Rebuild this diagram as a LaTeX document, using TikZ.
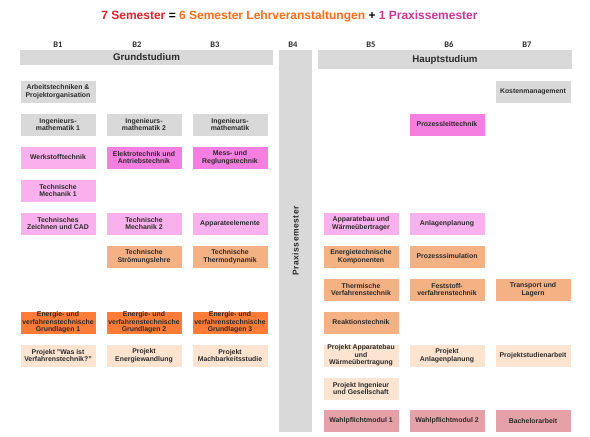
\documentclass[tikz,border=0pt]{standalone}
\usepackage{fontspec}
\setmainfont{Liberation Sans}
\newfontfamily\labelfont{Carlito}
\newfontfamily\praxfont[LetterSpace=6]{Liberation Sans}
\definecolor{grau}{HTML}{D9D9D9}
\definecolor{rosahell}{HTML}{F8B1EC}
\definecolor{rosadunkel}{HTML}{F47FE1}
\definecolor{lachs}{HTML}{F4B183}
\definecolor{orange}{HTML}{FF7C38}
\definecolor{pfirsich}{HTML}{FCE4D0}
\definecolor{altrosa}{HTML}{E6A0A8}
\definecolor{schrift}{HTML}{2B2B2B}
\definecolor{titrot}{HTML}{D9232A}
\definecolor{titorange}{HTML}{FF6A13}
\definecolor{titlila}{HTML}{CC3399}
\tikzstyle{modul} = [draw=white, line width=0.4pt, minimum width=76pt, minimum height=23pt, inner sep=0.5pt, align=center, text=schrift, font={\fontsize{6.9}{7.6}\selectfont\bfseries}]
\tikzstyle{grund} = [modul, fill=grau]
\tikzstyle{hell} = [modul, fill=rosahell]
\tikzstyle{dunkel} = [modul, fill=rosadunkel]
\tikzstyle{lachs} = [modul, fill=lachs]
\tikzstyle{evg} = [modul, fill=orange]
\tikzstyle{projekt} = [modul, fill=pfirsich]
\tikzstyle{wahl} = [modul, fill=altrosa]
\tikzstyle{balken} = [fill=grau, inner sep=0pt, text=schrift, font={\fontsize{9.7}{11}\selectfont\bfseries}]
\tikzstyle{sem} = [text=schrift, font={\labelfont\fontsize{8.5}{10}\selectfont\bfseries}]

\begin{document}
\begin{tikzpicture}[x=1pt,y=-1pt]
        \useasboundingbox (0,0) rectangle (590,437);
        \node[font={\fontsize{12}{14}\selectfont\bfseries}](titel) at (289.5,16){\textcolor{titrot}{7 Semester} = \textcolor{titorange}{6 Semester Lehrveranstaltungen} + \textcolor{titlila}{1 Praxissemester}};
        % Semester
        \node[sem](b1) at (58,44.5){B1};
        \node[sem](b2) at (137,44.5){B2};
        \node[sem](b3) at (215,44.5){B3};
        \node[sem](b4) at (293,44.5){B4};
        \node[sem](b5) at (371,44.5){B5};
        \node[sem](b6) at (449,44.5){B6};
        \node[sem](b7) at (527,44.5){B7};
        \node[balken, minimum width=253pt, minimum height=15pt](gs) at (146.5,57.5){Grundstudium};
        \node[balken, minimum width=254pt, minimum height=19pt](hs) at (445,59.5){Hauptstudium};
        \node[balken, minimum width=382pt, minimum height=33pt, rotate=90](praxis) at (295.5,241){\praxfont\fontsize{8.5}{10}\selectfont Praxissemester};
        % Grundstudium
        \node[grund](at1) at (58,91.5){Arbeitstechniken \&\\Projektorganisation};
        \node[grund](ma1) at (58,124.5){Ingenieurs-\\mathematik 1};
        \node[grund](ma2) at (144,124.5){Ingenieurs-\\mathematik 2};
        \node[grund](ma3) at (230,124.5){Ingenieurs-\\mathematik};
        \node[hell](wst) at (58,157.5){Werkstofftechnik};
        \node[dunkel](et) at (144,157.5){Elektrotechnik und\\Antriebstechnik};
        \node[dunkel](mrt) at (230,157.5){Mess- und\\Reglungstechnik};
        \node[hell](tm1) at (58,190.5){Technische\\Mechanik 1};
        \node[hell](tzc) at (58,223.5){Technisches\\Zeichnen und CAD};
        \node[hell](tm2) at (144,223.5){Technische\\Mechanik 2};
        \node[hell](ae) at (230,223.5){Apparateelemente};
        \node[lachs](tsl) at (144,256.5){Technische\\Strömungslehre};
        \node[lachs](ttd) at (230,256.5){Technische\\Thermodynamik};
        \node[evg](evg1) at (58,322.5){Energie- und\\verfahrenstechnische\\Grundlagen 1};
        \node[evg](evg2) at (144,322.5){Energie- und\\verfahrenstechnische\\Grundlagen 2};
        \node[evg](evg3) at (230,322.5){Energie- und\\verfahrenstechnische\\Grundlagen 3};
        \node[projekt](pvt) at (58,355.5){Projekt "Was ist\\Verfahrenstechnik?"};
        \node[projekt](pew) at (144,355.5){Projekt\\Energiewandlung};
        \node[projekt](pmb) at (230,355.5){Projekt\\Machbarkeitsstudie};
        % Hauptstudium
        \node[grund](km) at (533,91.5){Kostenmanagement};
        \node[dunkel](plt) at (447,124.5){Prozessleittechnik};
        \node[hell](awu) at (361,223.5){Apparatebau und\\Wärmeübertrager};
        \node[hell](apl) at (447,223.5){Anlagenplanung};
        \node[lachs](etk) at (361,256.5){Energietechnische\\Komponenten};
        \node[lachs](psim) at (447,256.5){Prozesssimulation};
        \node[lachs](tvt) at (361,289.5){Thermische\\Verfahrenstechnik};
        \node[lachs](fvt) at (447,289.5){Feststoff-\\verfahrenstechnik};
        \node[lachs](tul) at (533,289.5){Transport und\\Lagern};
        \node[lachs](rt) at (361,322.5){Reaktionstechnik};
        \node[projekt](pawu) at (361,355.5){Projekt Apparatebau\\und\\Wärmeübertragung};
        \node[projekt](papl) at (447,355.5){Projekt\\Anlagenplanung};
        \node[projekt](psa) at (533,355.5){Projektstudienarbeit};
        \node[projekt](pig) at (361,388.5){Projekt Ingenieur\\und Gesellschaft};
        \node[wahl](wpm1) at (361,421){Wahlpflichtmodul 1};
        \node[wahl](wpm2) at (447,421){Wahlpflichtmodul 2};
        \node[wahl](ba) at (533,421){Bachelorarbeit};
      \end{tikzpicture}
\end{document}
